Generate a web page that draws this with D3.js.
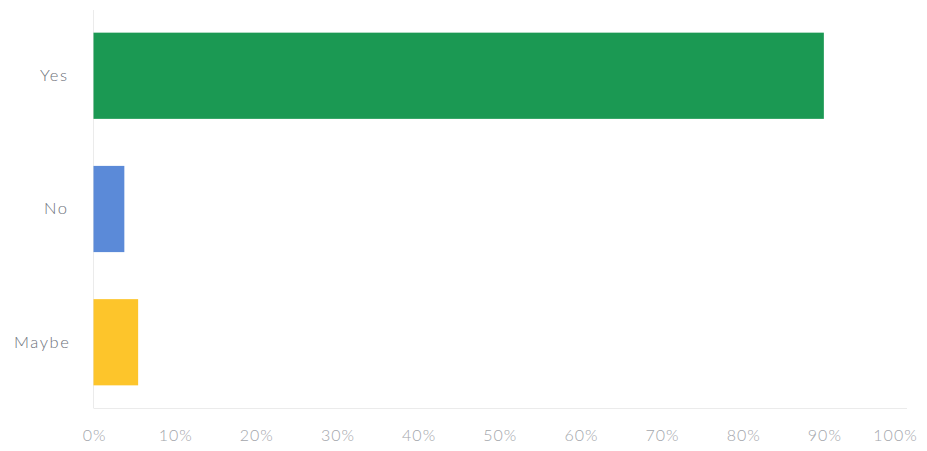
<!DOCTYPE html>
<html><head><meta charset="utf-8">
<script src="https://cdn.jsdelivr.net/npm/d3@7"></script>
<style>
html,body{margin:0;padding:0;background:#fff;}
svg{display:block;}
</style></head>
<body>
<svg id="chart" width="927" height="451"></svg>
<script>
const categories = ["Yes", "No", "Maybe"];
const values = [90, 3.8, 5.5];
const colors = ["#1b9953", "#5b8ad8", "#fdc52b"];
const tickValues = [0, 10, 20, 30, 40, 50, 60, 70, 80, 90, 100];

const svg = d3.select("#chart");
const x = d3.scaleLinear().domain([0, 100]).range([93.5, 905]);
const y = d3.scaleBand().domain(categories).range([10, 408]).paddingInner(0.353).paddingOuter(0.17);

// left axis line and bottom line
svg.append("line").attr("x1", 93.5).attr("x2", 93.5).attr("y1", 10).attr("y2", 408)
  .attr("stroke", "#ebebeb").attr("stroke-width", 1);
svg.append("line").attr("x1", 93.5).attr("x2", 907).attr("y1", 408.5).attr("y2", 408.5)
  .attr("stroke", "#ebebeb").attr("stroke-width", 1);

svg.selectAll("rect.bar").data(categories).enter().append("rect")
  .attr("class", "bar")
  .attr("x", x(0))
  .attr("y", d => y(d))
  .attr("width", (d, i) => x(values[i]) - x(0))
  .attr("height", y.bandwidth())
  .attr("fill", (d, i) => colors[i]);

// y labels
const yAxis = d3.axisLeft(y).tickSize(0).tickPadding(0);
const yg = svg.append("g").attr("transform", "translate(70,0)").call(yAxis);
yg.select(".domain").remove();
yg.selectAll("text").attr("font-family", "Lato, sans-serif").attr("font-weight", 300)
  .attr("font-size", 16.5).attr("fill", "#6b7079").attr("letter-spacing", "1.6px")
  .attr("dx", d => d === "Maybe" ? 0.5 : -1.5);

// x labels
const xAxis = d3.axisBottom(x).tickValues(tickValues).tickSize(0).tickPadding(0).tickFormat(d => d + "%");
const xg = svg.append("g").attr("transform", "translate(0,430)").call(xAxis);
xg.select(".domain").remove();
xg.selectAll("text").attr("font-family", "Lato, sans-serif").attr("font-weight", 300)
  .attr("font-size", 16).attr("fill", "#a3a6ab").attr("letter-spacing", "1px")
  .attr("dx", d => d === 100 ? -10 : 0.5);
</script>
</body></html>
